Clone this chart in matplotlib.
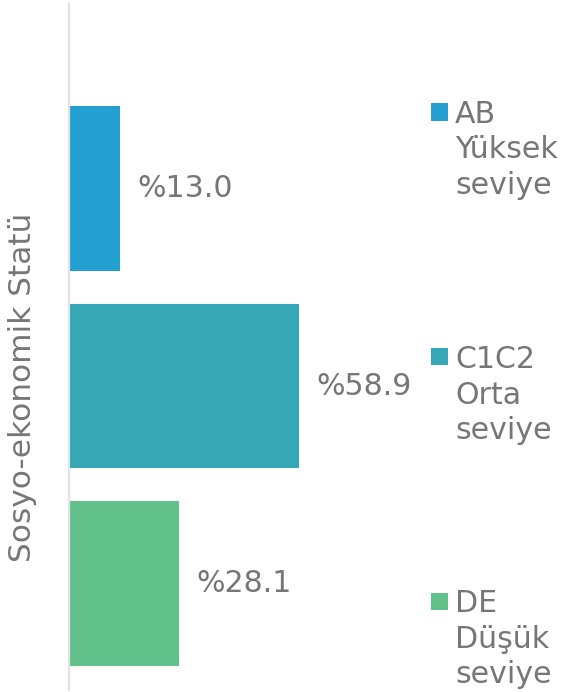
import matplotlib
matplotlib.use("Agg")
import matplotlib.pyplot as plt
from matplotlib.patches import Rectangle

categories = ["AB", "C1C2", "DE"]
values = [13.0, 58.9, 28.1]
legend_lines = [["AB", "Yüksek", "seviye"],
                ["C1C2", "Orta", "seviye"],
                ["DE", "Düşük", "seviye"]]
colors = ["#239FD0", "#36A7B5", "#62C08A"]
ylabel = "Sosyo-ekonomik Statü"

W, H = 566, 692
fig = plt.figure(figsize=(W / 100, H / 100), dpi=100)
txt_color = "#767676"
fs = 21.6

# axes placement in pixels
ax_left, ax_right, ax_top, ax_bottom = 69, 410, 4, 690
ax = fig.add_axes([ax_left / W, (H - ax_bottom) / H,
                   (ax_right - ax_left) / W, (ax_bottom - ax_top) / H])

px_per_unit = 3.9
ax.set_xlim(0, (ax_right - ax_left) / px_per_unit)
ax.set_ylim(2.539, -0.934)

pos = list(range(len(categories)))
bars = ax.barh(pos, values, height=0.835, color=colors)
for p, v in zip(pos, values):
    ax.annotate(f"%{v:.1f}", xy=(v, p), xytext=(13, 0),
                textcoords="offset points", ha="left", va="center",
                fontsize=fs, color=txt_color)

for s in ["top", "right", "bottom"]:
    ax.spines[s].set_visible(False)
ax.spines["left"].set_color("#E3E3E3")
ax.spines["left"].set_linewidth(1.6)
ax.set_xticks([])
ax.set_yticks([])

fig.text(23 / W, 1 - 387 / H, ylabel, rotation=90, ha="center", va="center",
         fontsize=22.5, color=txt_color)

# legend (manual, to the right)
legend_centers = [112, 357, 601]
sq = 17
for c, lines, cy in zip(colors, legend_lines, legend_centers):
    fig.patches.append(Rectangle((431 / W, 1 - (cy + sq / 2) / H), sq / W, sq / H,
                                 transform=fig.transFigure, facecolor=c,
                                 edgecolor="none"))
    base0 = cy + 11
    for i, line in enumerate(lines):
        fig.text(455 / W, 1 - (base0 + i * 35.5) / H, line, ha="left",
                 va="baseline", fontsize=fs, color=txt_color)

fig.savefig("out.png", dpi=100)
